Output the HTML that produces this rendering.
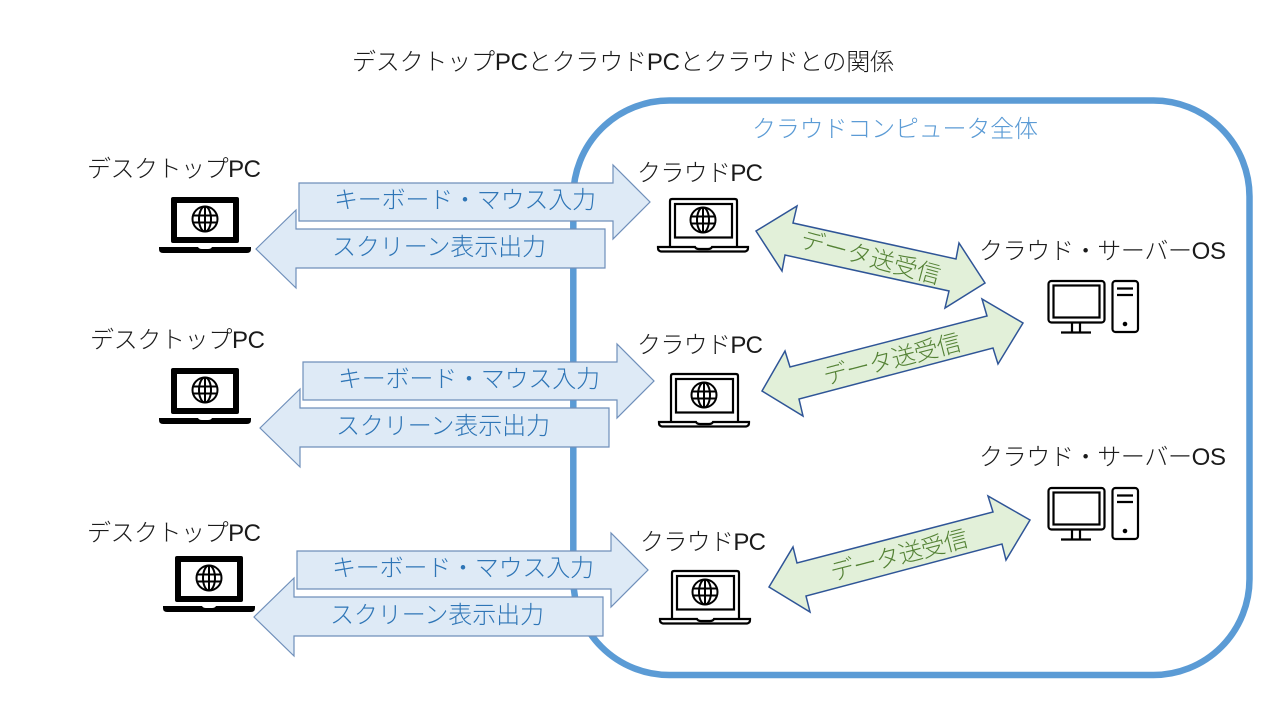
<!DOCTYPE html>
<html lang="ja"><head><meta charset="utf-8"><title>デスクトップPCとクラウドPCとクラウドとの関係</title>
<style>
html,body{margin:0;padding:0;background:#fff;width:1280px;height:720px;overflow:hidden}
svg{display:block}
text{font-family:"Liberation Sans","Noto Sans CJK JP",sans-serif;font-size:24px;font-weight:300;fill:#1a1a1a;text-anchor:start}
.b{fill:#2E75B6}.g{fill:#548235}.l{fill:#5B9BD5}
.ba{fill:#DEEAF6;stroke:#6F8FBA;stroke-width:1.2}
.ga{fill:#E2F0D9;stroke:#2F5597;stroke-width:1.5}
</style></head><body>
<svg width="1280" height="720" viewBox="0 0 1280 720" xmlns="http://www.w3.org/2000/svg">
<defs>
<g id="globe" fill="none" stroke="#000" stroke-width="2">
<circle cx="0" cy="0" r="12.5"/><ellipse cx="0" cy="0" rx="6" ry="12.5"/><path d="M-12 -3.500H12M-12 3.500H12M0 -12.5V12.5"/>
</g>
<g id="lapF">
<rect x="171" y="197" width="68" height="46" rx="2" fill="#000"/>
<rect x="177" y="203" width="56" height="34" fill="#fff"/>
<path d="M159 247H198q1 2 4 2h6q3 0 4-2H251v2q0 4-4 4H163q-4 0-4-4z" fill="#000"/>
<use href="#globe" x="205" y="219"/>
</g>
<g id="lapO">
<path d="M670 246V201q0-2 2-2H735q2 0 2 2V246" fill="none" stroke="#000" stroke-width="2.200"/>
<rect x="675" y="204" width="57" height="33.500" fill="none" stroke="#000" stroke-width="2.200"/>
<path d="M658 247H695q1 2 4 2h9q3 0 4-2H748v1q0 3-3 3.500H661q-3-.5-3-3.500z" fill="#fff" stroke="#000" stroke-width="2.200"/>
<use href="#globe" x="703" y="220"/>
</g>
<g id="pc" fill="none" stroke="#000" stroke-width="2.200">
<rect x="1048.500" y="281" width="56" height="41.500" rx="3"/>
<rect x="1053.500" y="285.500" width="46" height="32"/>
<path d="M1072 323V332M1080 323V332M1061 332.500H1091"/>
<rect x="1112.500" y="281" width="25.500" height="51" rx="3"/>
<path d="M1117 288.500H1133M1117 295H1133"/>
<circle cx="1125" cy="324" r="1.200" fill="#000"/>
</g>
<g id="row">
<path class="ba" d="M299 183H613V165L650 202L613 239V221H299Z"/>
<path class="ba" d="M256 249L296 210V229H605V268H296V288Z"/>
<text class="b" x="334" y="208" textLength="262">キーボード・マウス入力</text>
<text class="b" x="332" y="255" textLength="214">スクリーン表示出力</text>
</g>
</defs>

<rect x="573.300" y="100.500" width="676.200" height="574.500" rx="96" ry="96" fill="none" stroke="#5B9BD5" stroke-width="6.500"/>

<text x="352" y="70" textLength="542">デスクトップPCとクラウドPCとクラウドとの関係</text>
<text class="l" x="752" y="137" textLength="286">クラウドコンピュータ全体</text>

<use href="#row"/>
<use href="#row" x="4" y="179"/>
<use href="#row" x="-2" y="368"/>

<text x="87" y="177" textLength="174">デスクトップPC</text>
<text x="90" y="348" textLength="175">デスクトップPC</text>
<text x="87" y="541" textLength="174">デスクトップPC</text>
<text x="637" y="181" textLength="126">クラウドPC</text>
<text x="637" y="353" textLength="126">クラウドPC</text>
<text x="640" y="550" textLength="126">クラウドPC</text>
<text x="979" y="259" textLength="247">クラウド・サーバーOS</text>
<text x="979" y="465" textLength="247">クラウド・サーバーOS</text>

<use href="#lapF"/>
<use href="#lapF" y="171"/>
<use href="#lapF" x="4" y="359"/>
<use href="#lapO"/>
<use href="#lapO" x="1" y="175"/>
<use href="#lapO" x="2" y="372"/>
<use href="#pc"/>
<use href="#pc" y="207"/>

<path class="ga" d="M756 231L797 206L793 223L956 259L959 243L985 283L945 308L949 291L785 255L782 271Z"/>
<path class="ga" d="M762 391L785 351L790 367L987 316L982 299L1023 323L998 364L993 348L799 399L803 416Z"/>
<path class="ga" d="M769 587L793 547L797 563L993 512L988 496L1030 520L1006 560L1002 544L806 596L810 612Z"/>
<text class="g" transform="translate(799,247) rotate(15)" textLength="144">データ送受信</text>
<text class="g" transform="translate(826,385) rotate(-14.500)" textLength="141">データ送受信</text>
<text class="g" transform="translate(833,581) rotate(-14.500)" textLength="141">データ送受信</text>
</svg>
</body></html>
